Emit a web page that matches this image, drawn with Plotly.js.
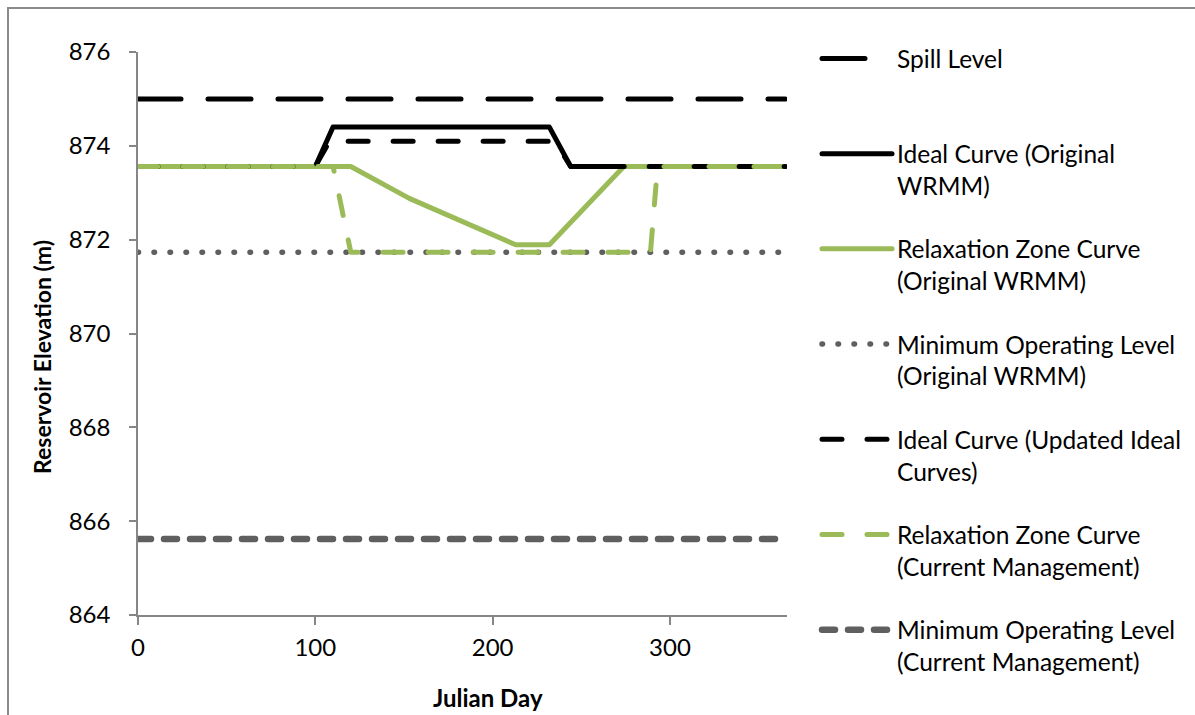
<!DOCTYPE html>
<html>
<head>
<meta charset="utf-8">
<script src="https://cdn.plot.ly/plotly-3.0.1.min.js"></script>
<style>
  html, body { margin: 0; padding: 0; background: #fff; }
  #wrap { position: relative; width: 1195px; height: 715px; overflow: hidden; }
  #chart { position: absolute; left: 0; top: 0; width: 1195px; height: 715px; }
  #frame { position: absolute; left: 7px; top: 7px; width: 1300px; height: 800px;
           border-left: 2px solid #8a8a8a; border-top: 2px solid #8a8a8a; pointer-events: none; }
  #chart path.js-line { stroke-linecap: round !important; stroke-linejoin: round !important; }
</style>
</head>
<body>
<div id="wrap">
  <div id="chart"></div>
  <div id="frame"></div>
</div>
<script>
// ---- data (Julian day, reservoir elevation in m) ----
const spillDay = [0, 365];
const spillElev = [875.0, 875.0];

const idealOrigDay = [0, 100, 110, 232, 244, 365];
const idealOrigElev = [873.56, 873.56, 874.4, 874.4, 873.56, 873.56];

const relaxOrigDay = [0, 120, 153, 213, 232, 274, 365];
const relaxOrigElev = [873.56, 873.56, 872.88, 871.89, 871.89, 873.56, 873.56];

const minOrigDay = [0, 365];
const minOrigElev = [871.73, 871.73];

const idealUpdDay = [0, 100, 108, 235, 244, 365];
const idealUpdElev = [873.56, 873.56, 874.1, 874.1, 873.56, 873.56];

const relaxCurDay = [0, 110, 120, 289, 293, 365];
const relaxCurElev = [873.56, 873.56, 871.73, 871.73, 873.56, 873.56];

const minCurDay = [0, 365];
const minCurElev = [865.62, 865.62];

const seriesNames = [
  'Spill Level',
  'Ideal Curve (Original<br>WRMM)',
  'Relaxation Zone Curve<br>(Original WRMM)',
  'Minimum Operating Level<br>(Original WRMM)',
  'Ideal Curve (Updated Ideal<br>Curves)',
  'Relaxation Zone Curve<br>(Current Management)',
  'Minimum Operating Level<br>(Current Management)'
];
const xTicks = [0, 100, 200, 300];
const yTicks = [864, 866, 868, 870, 872, 874, 876];

const GREEN = '#9bbb59';
const GREY = '#5f5f5f';

function tr(i, x, y, color, width, dash) {
  return {
    type: 'scatter', mode: 'lines', x: x, y: y, name: seriesNames[i],
    legendgroup: 'g' + i,
    line: { color: color, width: width, dash: dash },
    hoverinfo: 'x+y+name'
  };
}

const data = [
  tr(0, spillDay, spillElev, '#000000', 5, '43px,27px'),
  tr(1, idealOrigDay, idealOrigElev, '#000000', 5, 'solid'),
  tr(2, relaxOrigDay, relaxOrigElev, GREEN, 5, 'solid'),
  tr(3, minOrigDay, minOrigElev, GREY, 5.5, '0.5px,15.5px'),
  tr(4, idealUpdDay, idealUpdElev, '#000000', 5, '20px,25px'),
  tr(5, relaxCurDay, relaxCurElev, GREEN, 5, '20px,25px'),
  tr(6, minCurDay, minCurElev, GREY, 6.5, '13px,13px')
];
data[0].name = 'Spill Level<br> ';

const axisFont = { family: 'Lato, sans-serif', size: 24, color: '#000' };

const layout = {
  width: 1195, height: 715,
  margin: { l: 138, r: 408, t: 52, b: 100, pad: 0, autoexpand: false },
  paper_bgcolor: '#ffffff', plot_bgcolor: '#ffffff',
  font: { family: 'Lato, sans-serif', color: '#000' },
  showlegend: true,
  xaxis: {
    range: [0, 366], tickvals: xTicks, ticktext: xTicks.map(String),
    showline: true, linecolor: '#868686', linewidth: 1.5,
    ticks: 'outside', ticklen: 8, tickcolor: '#868686', tickwidth: 1.5,
    showgrid: false, zeroline: false, tickfont: axisFont, ticklabelstandoff: 2
  },
  yaxis: {
    range: [864, 876], tickvals: yTicks, ticktext: yTicks.map(String),
    showline: true, linecolor: '#868686', linewidth: 1.5,
    ticks: 'outside', ticklen: 7, tickcolor: '#868686', tickwidth: 1.5,
    showgrid: false, zeroline: false, tickfont: axisFont, ticklabelstandoff: 14
  },
  legend: {
    x: (817 - 138) / 649, xanchor: 'left',
    y: (615 - 36) / 563, yanchor: 'top',
    bgcolor: 'rgba(0,0,0,0)', borderwidth: 0,
    font: { family: 'Lato, sans-serif', size: 24.5, color: '#000' },
    traceorder: 'grouped', tracegroupgap: 28.5, itemwidth: 70, valign: 'top',
    maxheight: 700,
    itemclick: false, itemdoubleclick: false
  },
  annotations: [
    { text: '<b>Reservoir Elevation (m)</b>', xref: 'paper', yref: 'paper',
      x: (42 - 138) / 649, y: (615 - 357) / 563, xanchor: 'center', yanchor: 'middle',
      textangle: -90, showarrow: false,
      font: { family: 'Lato, sans-serif', size: 23, color: '#000' } },
    { text: '<b>Julian Day</b>', xref: 'paper', yref: 'paper',
      x: (488 - 138) / 649, y: (615 - 697) / 563, xanchor: 'center', yanchor: 'middle',
      showarrow: false,
      font: { family: 'Lato, sans-serif', size: 24, color: '#000' } }
  ]
};

Plotly.newPlot('chart', data, layout, { displayModeBar: false });
</script>
</body>
</html>
